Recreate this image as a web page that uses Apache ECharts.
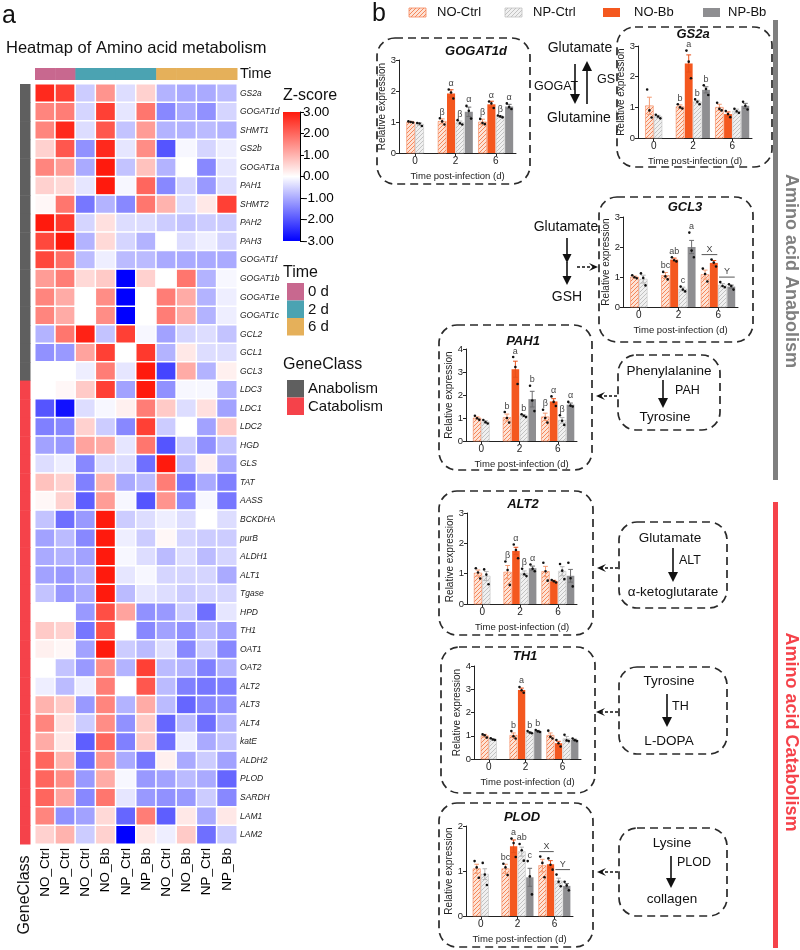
<!DOCTYPE html>
<html>
<head>
<meta charset="utf-8">
<script src="https://cdn.jsdelivr.net/npm/echarts@6/dist/echarts.min.js"></script>
<style>
html,body{margin:0;padding:0;background:#fff}
#main{width:800px;height:950px}
</style>
</head>
<body>
<div id="main"></div>
<script>
var FF = '"Liberation Sans", Arial, sans-serif';

// ---- heatmap data ----
var genes = ['GS2a','GOGAT1d','SHMT1','GS2b','GOGAT1a','PAH1','SHMT2','PAH2','PAH3','GOGAT1f',
  'GOGAT1b','GOGAT1e','GOGAT1c','GCL2','GCL1','GCL3','LDC3','LDC1','LDC2','HGD',
  'GLS','TAT','AASS','BCKDHA','purB','ALDH1','ALT1','Tgase','HPD','TH1',
  'OAT1','OAT2','ALT2','ALT3','ALT4','katE','ALDH2','PLOD','SARDH','LAM1','LAM2'];
var geneClass = ['Anabolism','Anabolism','Anabolism','Anabolism','Anabolism','Anabolism','Anabolism','Anabolism',
  'Anabolism','Anabolism','Anabolism','Anabolism','Anabolism','Anabolism','Anabolism','Anabolism',
  'Catabolism','Catabolism','Catabolism','Catabolism','Catabolism','Catabolism','Catabolism','Catabolism',
  'Catabolism','Catabolism','Catabolism','Catabolism','Catabolism','Catabolism','Catabolism','Catabolism',
  'Catabolism','Catabolism','Catabolism','Catabolism','Catabolism','Catabolism','Catabolism','Catabolism','Catabolism'];
var colLabels = ['NO_Ctrl','NP_Ctrl','NO_Ctrl','NO_Bb','NP_Ctrl','NP_Bb','NO_Ctrl','NO_Bb','NP_Ctrl','NP_Bb'];
var colTime = ['0 d','0 d','2 d','2 d','2 d','2 d','6 d','6 d','6 d','6 d'];
var timeLevels = ['0 d','2 d','6 d'];
var classLevels = ['Anabolism','Catabolism'];
var zTicks = [-3, 3];
var zscore = [
  [2.8, 2.5, -0.6, 1.4, -0.4, 0.6, -0.9, -1.0, -1.0, -0.8],
  [1.6, 1.7, -0.5, 2.5, -0.3, 1.8, -1.4, -1.0, -1.3, -0.5],
  [1.6, 2.8, -0.4, 2.2, -0.7, 1.3, -0.9, -0.9, -0.8, -0.9],
  [0.6, 2.2, -1.3, 2.8, -0.3, 1.5, -2.0, -0.1, -0.5, -0.2],
  [1.6, 1.3, -1.0, 3.0, -0.7, 0.8, -0.9, 0.0, -1.4, -0.3],
  [0.6, 0.5, -0.3, 3.0, -0.1, 2.0, -1.4, -0.5, -1.2, -0.4],
  [0.1, 1.8, -1.6, -0.9, -1.4, 1.8, 1.0, -0.4, 0.3, 2.5],
  [3.0, 2.6, -0.5, 0.4, -0.4, -0.4, -0.6, -0.7, -0.6, -0.6],
  [2.4, 3.0, -0.9, 0.5, -0.5, -0.9, 0.0, -0.4, -0.2, -0.5],
  [2.4, 1.9, -0.8, -0.2, -0.8, -0.8, -1.0, -1.0, -1.0, -1.0],
  [1.3, 1.7, 0.5, 0.7, -3.0, 0.6, 0.0, 1.8, -0.9, -0.1],
  [1.6, 1.1, 0.0, 1.5, -3.0, 0.0, 1.7, 1.1, -0.9, -0.2],
  [1.6, 1.1, 0.0, 1.5, -3.0, 0.0, 1.7, 1.1, -0.9, -0.2],
  [-0.9, 1.8, 2.9, -0.7, 2.5, -0.1, -1.1, -0.5, -0.4, -0.7],
  [-1.3, -1.2, 1.2, 2.5, 0.0, 2.6, -0.9, 0.3, -0.4, -0.4],
  [0.0, 0.0, -0.2, 1.7, -0.3, 3.0, -2.2, 1.1, -0.9, 0.2],
  [0.0, 0.1, 0.7, 2.5, -1.1, 3.0, -1.3, -0.1, -0.1, -0.9],
  [-2.0, -2.8, -0.4, -0.1, 0.2, 1.7, 0.7, -0.4, 0.4, -1.1],
  [-1.5, -1.4, 0.6, -0.6, -1.4, 2.5, -0.6, 0.0, -1.1, 0.7],
  [-1.1, -1.2, 1.2, 1.1, -0.3, 1.8, -2.0, -0.6, -1.3, -0.7],
  [-0.4, -0.2, -1.4, -0.4, -0.4, -1.7, 3.0, -0.8, 0.2, -1.0],
  [0.8, 0.6, -1.5, 1.0, -1.0, -0.8, 1.7, -1.6, -1.0, -1.5],
  [0.1, 0.6, -1.9, 1.3, -0.1, -2.0, 1.4, -1.4, -0.1, -1.6],
  [-0.7, -1.7, -1.2, 3.0, -0.6, -0.4, -0.2, -0.4, 0.0, -0.4],
  [-1.1, -0.8, -1.4, 3.0, -0.2, -0.6, 0.1, -0.5, -0.6, -0.6],
  [-1.0, -0.9, -1.1, 3.0, -0.1, -0.4, -0.8, -0.4, -0.8, -0.5],
  [-1.1, -1.2, -0.9, 3.0, -0.3, -0.1, -0.5, -0.5, -0.5, -1.0],
  [-0.7, -1.2, -1.0, 3.0, -0.8, -0.3, -0.4, -0.6, -0.5, -0.5],
  [0.0, 0.0, -1.2, 2.3, 1.2, -1.3, -1.2, -0.6, -1.7, -0.3],
  [0.7, 0.6, -1.6, 2.3, 0.0, -1.4, -1.1, -1.3, -0.8, -1.1],
  [0.2, 0.1, -1.1, 3.0, -0.6, -0.8, -0.4, -1.4, -0.6, -1.4],
  [0.0, -0.7, -1.2, 1.5, -0.9, 2.5, -0.8, -0.9, -1.5, -0.9],
  [-0.2, -0.8, -0.2, 1.7, 0.0, 2.2, -0.8, -1.5, -1.6, -1.5],
  [1.0, 0.7, -1.2, 1.6, -0.9, 1.1, -0.8, -1.8, -1.4, -1.3],
  [1.6, 0.4, -0.6, 1.5, -1.3, 0.7, -1.8, -0.8, -1.7, -0.9],
  [1.1, 0.3, -1.9, 2.0, -1.5, 0.7, -1.7, -0.2, -1.0, -0.7],
  [2.0, 1.0, -1.7, 1.4, -1.0, -1.6, 0.2, -1.0, -0.6, -1.1],
  [2.0, 1.5, -1.2, 1.1, -0.1, -1.2, -1.1, -0.8, -1.0, -1.8],
  [2.0, 1.2, -1.4, 1.8, -0.3, -1.2, -1.3, -1.2, -0.6, -1.4],
  [1.6, -1.3, -1.1, 0.5, -1.8, 1.7, -1.9, 0.3, -1.0, 0.3],
  [0.6, 1.0, -0.6, 0.6, -3.0, 0.3, -0.2, 0.7, -1.7, -0.6]
];

// ---- qPCR bar data: rows = NO-Ctrl, NO-Bb, NP-Ctrl, NP-Bb ; cols = day 0, 2, 6 ----
var groupNames = ['NO-Ctrl','NO-Bb','NP-Ctrl','NP-Bb'];
var dayLabels = ['0','2','6'];

var gogat1dMean = [[1.00,1.02,1.00],[null,1.92,1.57],[0.93,0.98,1.18],[null,1.33,1.50]];
var gogat1dSem  = [[0.02,0.08,0.09],[null,0.12,0.10],[0.04,0.05,0.02],[null,0.15,0.07]];
var gogat1dPts  = [[[1.02,1.00,0.98],[1.12,1.02,0.92],[1.10,0.97,0.93]],[null,[2.05,1.95,1.76],[1.66,1.60,1.45]],
                   [[0.97,0.95,0.87],[1.06,0.96,0.92],[1.21,1.18,1.15]],[null,[1.52,1.36,1.11],[1.60,1.48,1.42]]];
var gogat1dSig  = [['','β','β'],['','α','α'],['','β','β'],['','α','α']];

var gs2aMean = [[1.05,1.02,1.00],[null,2.43,0.78],[0.70,1.18,0.88],[null,1.57,1.05]];
var gs2aSem  = [[0.28,0.06,0.10],[null,0.28,0.07],[0.04,0.05,0.06],[null,0.10,0.08]];
var gs2aPts  = [[[1.58,0.90,0.67],[1.10,1.00,0.96],[1.15,0.95,0.90]],[null,[2.85,2.49,1.95],[0.88,0.78,0.68]],
                [[0.76,0.70,0.64],[1.26,1.18,1.10],[0.95,0.87,0.82]],[null,[1.72,1.60,1.40],[1.18,1.05,0.93]]];
var gs2aSig  = [['','b',''],['','a',''],['','b',''],['','b','']];

var gcl3Mean = [[1.00,1.05,1.08],[null,1.58,1.47],[0.93,0.60,0.73],[null,2.00,0.68]];
var gcl3Sem  = [[0.03,0.10,0.15],[null,0.05,0.08],[0.13,0.06,0.05],[null,0.22,0.05]];
var gcl3Pts  = [[[1.06,0.99,0.96],[1.17,1.02,0.92],[1.28,1.10,0.85]],[null,[1.66,1.56,1.52],[1.58,1.48,1.35]],
                [[1.12,0.97,0.72],[0.68,0.58,0.52],[0.83,0.70,0.66]],[null,[2.48,1.88,1.66],[0.76,0.70,0.58]]];
var gcl3Sig  = [['','bc',''],['','ab',''],['','c',''],['','a','']];
var gcl3Pairs = [['','','X'],['','','Y']];

var pah1Mean = [[1.00,1.02,1.05],[null,3.12,1.72],[0.83,1.10,0.90],[null,1.82,1.58]];
var pah1Sem  = [[0.05,0.15,0.16],[null,0.35,0.12],[0.05,0.04,0.12],[null,0.34,0.07]];
var pah1Pts  = [[[1.10,0.99,0.92],[1.26,1.00,0.80],[1.36,1.00,0.80]],[null,[3.65,3.22,2.48],[1.94,1.70,1.52]],
                [[0.91,0.82,0.76],[1.16,1.10,1.04],[1.12,0.88,0.70]],[null,[2.40,1.76,1.30],[1.70,1.54,1.50]]];
var pah1Sig  = [['','b','β'],['','a','α'],['','b','β'],['','b','α']];

var alt2Mean = [[1.02,1.05,1.07],[null,1.75,0.75],[0.92,1.02,1.08],[null,1.18,0.93]];
var alt2Sem  = [[0.10,0.22,0.17],[null,0.12,0.03],[0.15,0.07,0.15],[null,0.07,0.21]];
var alt2Pts  = [[[1.18,1.04,0.84],[1.40,1.12,0.63],[1.36,1.08,0.77]],[null,[1.96,1.78,1.51],[0.79,0.75,0.71]],
                [[1.14,0.97,0.65],[1.16,0.98,0.92],[1.32,1.10,0.82]],[null,[1.30,1.16,1.08],[1.36,0.85,0.58]]];
var alt2Sig  = [['','β',''],['','α',''],['','β',''],['','α','']];

var th1Mean = [[1.00,1.02,1.02],[null,2.97,0.68],[0.85,1.15,0.87],[null,1.20,0.82]];
var th1Sem  = [[0.06,0.10,0.10],[null,0.08,0.08],[0.03,0.03,0.10],[null,0.03,0.03]];
var th1Pts  = [[[1.06,1.02,0.92],[1.20,0.98,0.88],[1.22,0.96,0.88]],[null,[3.10,2.96,2.85],[0.82,0.68,0.54]],
               [[0.89,0.84,0.82],[1.20,1.14,1.11],[1.04,0.80,0.77]],[null,[1.25,1.19,1.16],[0.88,0.81,0.77]]];
var th1Sig  = [['','b',''],['','a',''],['','b',''],['','b','']];

var plodMean = [[1.05,1.05,1.12],[null,1.55,1.15],[0.93,1.43,0.78],[null,0.86,0.67]];
var plodSem  = [[0.10,0.10,0.14],[null,0.14,0.08],[0.12,0.10,0.06],[null,0.20,0.05]];
var plodPts  = [[[1.22,1.08,0.85],[1.16,1.08,0.91],[1.32,1.18,0.86]],[null,[1.72,1.62,1.31],[1.28,1.14,1.03]],
                [[1.18,0.92,0.69],[1.60,1.46,1.23],[0.92,0.76,0.66]],[null,[1.22,0.88,0.48],[0.76,0.68,0.57]]];
var plodSig  = [['','bc',''],['','a',''],['','ab',''],['','c','']];
var plodPairs = [['','','X'],['','','Y']];

var panels = [
  {name:'GOGAT1d', mean:gogat1dMean, sem:gogat1dSem, pts:gogat1dPts, sig:gogat1dSig, pairs:null, ymax:3},
  {name:'GS2a', mean:gs2aMean, sem:gs2aSem, pts:gs2aPts, sig:gs2aSig, pairs:null, ymax:3},
  {name:'GCL3', mean:gcl3Mean, sem:gcl3Sem, pts:gcl3Pts, sig:gcl3Sig, pairs:gcl3Pairs, ymax:3},
  {name:'PAH1', mean:pah1Mean, sem:pah1Sem, pts:pah1Pts, sig:pah1Sig, pairs:null, ymax:4},
  {name:'ALT2', mean:alt2Mean, sem:alt2Sem, pts:alt2Pts, sig:alt2Sig, pairs:null, ymax:3},
  {name:'TH1', mean:th1Mean, sem:th1Sem, pts:th1Pts, sig:th1Sig, pairs:null, ymax:4},
  {name:'PLOD', mean:plodMean, sem:plodSem, pts:plodPts, sig:plodSig, pairs:plodPairs, ymax:2}
];

// ---- layout (pixels) ----
var panelGrid = [[399,60,117,93],[638,46,114,92],[623,217,115,90],[466,349,111,92],[467,513,110,91],[474,666,107,93],[466,826,107,90]];
var panelBox  = [[377,38,153,146],[617,27,155,140],[599,197,154,145],[439,325,153,145],[439,491,154,144],[441,647,154,146],[439,803,154,144]];
var panelTitle = [[476,51],[693,34],[685,207],[523,341],[523,504],[525,656],[522,817]];

// ---- colours ----
var heatColors = ['#0000FF','#FFFFFF','#FF1A0D'];
var timeColors = ['#C8688F','#4BA3B2','#E5B05A'];
var classColors = ['#5F5F5F','#F5424A'];

function hatch(bg, fg) {
  var c = document.createElement('canvas');
  c.width = 4; c.height = 4;
  var x = c.getContext('2d');
  x.fillStyle = bg; x.fillRect(0, 0, 4, 4);
  x.strokeStyle = fg; x.lineWidth = 1;
  x.beginPath();
  x.moveTo(0, 4); x.lineTo(4, 0);
  x.moveTo(-1, 1); x.lineTo(1, -1);
  x.moveTo(3, 5); x.lineTo(5, 3);
  x.stroke();
  return {image: c, repeat: 'repeat'};
}
var barFill = [hatch('#FDE3D6', '#F5875A'), '#F4581F', hatch('#F0F0F0', '#C2C2C2'), '#8E8E91'];
var barEdge = ['#F5875A', null, '#C2C2C2', null];
var errColor = ['#F39A72', '#E8501A', '#B5B5B5', '#6E6E70'];

var dom = document.getElementById('main');
var myChart = echarts.init(dom);

// graphic helpers
var G = [];
function txt(x, y, s, o) {
  var st = {text: s, fill: '#111', fontSize: 13, fontFamily: FF, align: 'left', verticalAlign: 'middle'};
  o = o || {};
  for (var k in o) if (k !== 'rotation') st[k] = o[k];
  G.push({type: 'text', x: x, y: y, rotation: o.rotation || 0, style: st, z: 10});
}
function box(b) {
  G.push({type: 'rect', shape: {x: b[0], y: b[1], width: b[2], height: b[3], r: 18},
    style: {fill: 'none', stroke: '#2a2a2a', lineWidth: 1.7, lineDash: [8, 5]}, z: 1});
}
function arrow(x1, y1, x2, y2, o) {
  o = o || {};
  var ang = Math.atan2(y2 - y1, x2 - x1), L = o.L || 9, W = o.W || 4.5;
  var c = Math.cos(ang), s = Math.sin(ang);
  var bx = x2 - L * c, by = y2 - L * s;
  var notch = o.stealth ? 0.4 * L : 0;
  G.push({type: 'line', shape: {x1: x1, y1: y1, x2: x2 - (L - notch) * c, y2: y2 - (L - notch) * s},
    style: {stroke: '#111', lineWidth: o.lw || 1.6, lineDash: o.dash || null}, z: 5});
  G.push({type: 'polygon', shape: {points: [[x2, y2], [bx - s * W, by + c * W], [x2 - (L - notch) * c, y2 - (L - notch) * s], [bx + s * W, by - c * W]]},
    style: {fill: '#111'}, z: 5});
}

// ---- panel labels / heatmap titles ----
txt(2, 16, 'a', {fontSize: 25});
txt(372, 14, 'b', {fontSize: 25});
txt(6, 48, 'Heatmap of Amino acid metabolism', {fontSize: 16.5});
txt(240, 74, 'Time', {fontSize: 14.5});
txt(25, 895, 'GeneClass', {fontSize: 16, align: 'center', rotation: Math.PI / 2});

// Z-score legend
txt(283, 96, 'Z-score', {fontSize: 16});
G.push({type: 'rect', shape: {x: 283, y: 112, width: 17, height: 129},
  style: {fill: {type: 'linear', x: 0, y: 0, x2: 0, y2: 1, colorStops: [
    {offset: 0, color: heatColors[2]}, {offset: 0.5, color: heatColors[1]}, {offset: 1, color: heatColors[0]}]}}});
// Time legend
txt(283, 273, 'Time', {fontSize: 16});
timeLevels.forEach(function (t, i) {
  G.push({type: 'rect', shape: {x: 287, y: 283 + i * 17.5, width: 17, height: 17.5}, style: {fill: timeColors[i]}});
  txt(308, 292 + i * 17.5, t, {fontSize: 15});
});
// GeneClass legend
txt(283, 365, 'GeneClass', {fontSize: 16});
classLevels.forEach(function (t, i) {
  G.push({type: 'rect', shape: {x: 287, y: 380 + i * 17.5, width: 17, height: 17.5}, style: {fill: classColors[i]}});
  txt(308, 389 + i * 17.5, t, {fontSize: 15});
});

// bar legend at top
var legX = [[409, 437], [505, 533], [603, 634], [703, 728]];
[0, 2, 1, 3].forEach(function (s, i) {
  G.push({type: 'rect', shape: {x: legX[i][0], y: 8, width: 17, height: 9},
    style: {fill: barFill[s], stroke: barEdge[s], lineWidth: 0.8}});
  txt(legX[i][1], 12.5, groupNames[s], {fontSize: 13});
});

// panel boxes and titles
panels.forEach(function (p, i) {
  box(panelBox[i]);
  txt(panelTitle[i][0], panelTitle[i][1], p.name, {fontSize: 13, fontWeight: 'bold', fontStyle: 'italic', align: 'center'});
});

// pathway: glutamate <-> glutamine
txt(580, 48, 'Glutamate', {fontSize: 14, align: 'center'});
txt(579, 118, 'Glutamine', {fontSize: 14, align: 'center'});
arrow(575, 64, 575, 104, {L: 10, W: 5});
arrow(587, 104, 587, 61, {L: 10, W: 5});
txt(534, 87, 'GOGAT', {fontSize: 12.5});
txt(597, 80, 'GS', {fontSize: 12.5});
// glutamate -> GSH
txt(566, 227, 'Glutamate', {fontSize: 14, align: 'center'});
arrow(567, 238, 567, 263, {L: 9, W: 4.5});
arrow(567, 262, 567, 285, {L: 9, W: 4.5});
txt(567, 297, 'GSH', {fontSize: 14, align: 'center'});
arrow(577, 267, 598, 267, {dash: [3, 2], lw: 1.4, stealth: true, L: 9, W: 4});
// PAH
box([618, 355, 102, 75]);
txt(669, 371, 'Phenylalanine', {fontSize: 13.5, align: 'center'});
arrow(663, 380, 663, 408, {L: 10, W: 5});
txt(675, 391, 'PAH', {fontSize: 12.5});
txt(665, 417, 'Tyrosine', {fontSize: 13.5, align: 'center'});
arrow(617, 396, 596, 396, {dash: [3, 2], lw: 1.4, stealth: true, L: 9, W: 4});
// ALT
box([619, 522, 108, 86]);
txt(670, 538, 'Glutamate', {fontSize: 13.5, align: 'center'});
arrow(673, 548, 673, 582, {L: 10, W: 5});
txt(679, 561, 'ALT', {fontSize: 12.5});
txt(673, 592, 'α-ketoglutarate', {fontSize: 13.5, align: 'center'});
arrow(618, 568, 597, 568, {dash: [3, 2], lw: 1.4, stealth: true, L: 9, W: 4});
// TH
box([619, 667, 108, 87]);
txt(669, 681, 'Tyrosine', {fontSize: 13.5, align: 'center'});
arrow(667, 694, 667, 727, {L: 10, W: 5});
txt(672, 707, 'TH', {fontSize: 12.5});
txt(669, 741, 'L-DOPA', {fontSize: 13.5, align: 'center'});
arrow(618, 712, 596, 712, {dash: [3, 2], lw: 1.4, stealth: true, L: 9, W: 4});
// PLOD
box([619, 828, 108, 88]);
txt(672, 843, 'Lysine', {fontSize: 13.5, align: 'center'});
arrow(671, 856, 671, 888, {L: 10, W: 5});
txt(677, 863, 'PLOD', {fontSize: 12.5});
txt(672, 899, 'collagen', {fontSize: 13.5, align: 'center'});
arrow(618, 872, 597, 872, {dash: [3, 2], lw: 1.4, stealth: true, L: 9, W: 4});

// side bars
G.push({type: 'rect', shape: {x: 773, y: 20, width: 5, height: 460}, style: {fill: '#7F7F7F'}});
G.push({type: 'rect', shape: {x: 773, y: 502, width: 5, height: 446}, style: {fill: '#F5424A'}});
txt(791, 271, 'Amino acid Anabolism', {fontSize: 18, fontWeight: 'bold', fill: '#7F7F7F', align: 'center', rotation: -Math.PI / 2});
txt(791, 732, 'Amino acid Catabolism', {fontSize: 18, fontWeight: 'bold', fill: '#F5424A', align: 'center', rotation: -Math.PI / 2});

// ---- heatmap ----
var heatData = [];
zscore.forEach(function (row, r) {
  row.forEach(function (v, c) { heatData.push([c, r, v]); });
});

var grids = [
  {left: 35, top: 84, width: 202, height: 760},
  {left: 283, top: 112, width: 17, height: 129}
];
var xAxes = [
  {gridIndex: 0, type: 'category', data: colLabels, position: 'bottom',
    axisLine: {show: false}, axisTick: {show: false},
    axisLabel: {rotate: 90, fontSize: 13.5, color: '#000', margin: 4, fontFamily: FF}},
  {gridIndex: 1, type: 'value', show: false}
];
var yAxes = [
  {gridIndex: 0, type: 'category', data: genes, inverse: true, position: 'right',
    axisLine: {show: false}, axisTick: {show: false},
    axisLabel: {fontSize: 8.5, fontStyle: 'italic', color: '#222', margin: 3, fontFamily: FF}},
  {gridIndex: 1, type: 'value', min: zTicks[0], max: zTicks[1], interval: 1, position: 'right',
    axisLine: {show: true, onZero: false, lineStyle: {color: '#000', width: 1}},
    axisTick: {show: true, length: 4, lineStyle: {color: '#000'}},
    splitLine: {show: false},
    axisLabel: {formatter: function (v) { return v.toFixed(2); }, fontSize: 13.5, color: '#000', margin: 3, fontFamily: FF}}
];

var series = [
  {type: 'heatmap', xAxisIndex: 0, yAxisIndex: 0, data: heatData,
    itemStyle: {borderColor: '#fff', borderWidth: 1.5}, emphasis: {disabled: true}},
  {type: 'custom', xAxisIndex: 0, yAxisIndex: 0, clip: false,
    data: colTime.map(function (t, i) { return [i, 0, timeLevels.indexOf(t)]; }),
    encode: {x: 0, y: 1},
    renderItem: function (params, api) {
      var c = api.coord([api.value(0), 0]);
      var w = api.size([1, 1])[0];
      return {type: 'rect', shape: {x: c[0] - w / 2, y: params.coordSys.y - 16, width: w + 0.5, height: 12},
        style: {fill: timeColors[api.value(2)]}};
    }},
  {type: 'custom', xAxisIndex: 0, yAxisIndex: 0, clip: false,
    data: geneClass.map(function (t, i) { return [0, i, classLevels.indexOf(t)]; }),
    encode: {x: 0, y: 1},
    renderItem: function (params, api) {
      var c = api.coord([0, api.value(1)]);
      var h = api.size([1, 1])[1];
      return {type: 'rect', shape: {x: params.coordSys.x - 15, y: c[1] - h / 2, width: 10.5, height: h + 0.5},
        style: {fill: classColors[api.value(2)]}};
    }}
];

// ---- bar panels ----
function makeRender(p) {
  return function (params, api) {
    var g = api.value(0), s = api.value(1);
    var unit = api.size([1, 0])[0];
    var bw = unit * 0.22;
    function cxOf(ss) {
      var slot = g === 0 ? (ss === 0 ? -0.5 : 0.5) : ss - 1.5;
      return api.coord([g, 0])[0] + slot * bw;
    }
    function topOf(ss) {
      var m = p.mean[ss][g], e = p.sem[ss][g];
      var ys = p.pts[ss][g].map(function (v) { return api.coord([g, v])[1]; });
      ys.push(api.coord([g, m + e])[1]);
      return Math.min.apply(null, ys);
    }
    var m = p.mean[s][g], e = p.sem[s][g];
    var base = api.coord([g, 0]);
    var cx = cxOf(s);
    var yTop = api.coord([g, m])[1];
    var yHi = api.coord([g, m + e])[1], yLo = api.coord([g, m - e])[1];
    var cap = bw * 0.28;
    var ch = [];
    ch.push({type: 'rect', shape: {x: cx - bw / 2 + 0.4, y: yTop, width: bw - 0.8, height: base[1] - yTop},
      style: {fill: barFill[s], stroke: barEdge[s], lineWidth: 0.6}});
    var ec = errColor[s];
    ch.push({type: 'line', shape: {x1: cx, y1: yLo, x2: cx, y2: yHi}, style: {stroke: ec, lineWidth: 1}});
    ch.push({type: 'line', shape: {x1: cx - cap, y1: yHi, x2: cx + cap, y2: yHi}, style: {stroke: ec, lineWidth: 1}});
    ch.push({type: 'line', shape: {x1: cx - cap, y1: yLo, x2: cx + cap, y2: yLo}, style: {stroke: ec, lineWidth: 1}});
    p.pts[s][g].forEach(function (v, k) {
      ch.push({type: 'circle', shape: {cx: cx + (k - 1) * bw * 0.26, cy: api.coord([g, v])[1], r: 1.3}, style: {fill: '#111'}});
    });
    var lab = p.sig[s][g];
    if (lab) {
      ch.push({type: 'text', x: cx, y: topOf(s) - 1.5,
        style: {text: lab, align: 'center', verticalAlign: 'bottom', fontSize: 9, fill: '#444', fontFamily: FF}});
    }
    if (p.pairs && (s === 1 || s === 3)) {
      var pl = p.pairs[(s - 1) / 2][g];
      if (pl) {
        var yl = Math.min(topOf(s), topOf(s - 1)) - 5;
        var xa = cxOf(s - 1) - bw * 0.4, xb = cx + bw * 0.4;
        ch.push({type: 'line', shape: {x1: xa, y1: yl, x2: xb, y2: yl}, style: {stroke: '#444', lineWidth: 0.9}});
        ch.push({type: 'text', x: (xa + xb) / 2, y: yl - 1,
          style: {text: pl, align: 'center', verticalAlign: 'bottom', fontSize: 9, fill: '#444', fontFamily: FF}});
      }
    }
    return {type: 'group', children: ch};
  };
}

panels.forEach(function (p, i) {
  var gi = i + 2, L = panelGrid[i];
  grids.push({left: L[0], top: L[1], width: L[2], height: L[3]});
  xAxes.push({gridIndex: gi, type: 'value', min: -0.4, max: 2.5,
    axisLine: {show: true, onZero: false, lineStyle: {color: '#222', width: 1}},
    axisTick: {show: true, customValues: [0, 1, 2], length: 3, lineStyle: {color: '#222'}},
    axisLabel: {customValues: [0, 1, 2], formatter: function (v) { return dayLabels[Math.round(v)]; },
      fontSize: 10, color: '#222', margin: 3, fontFamily: FF},
    splitLine: {show: false},
    name: 'Time post-infection (d)', nameLocation: 'middle', nameGap: 18,
    nameTextStyle: {fontSize: 9.5, color: '#222', fontFamily: FF}});
  yAxes.push({gridIndex: gi, type: 'value', min: 0, max: p.ymax, interval: 1,
    axisLine: {show: true, onZero: false, lineStyle: {color: '#222', width: 1}},
    axisTick: {show: true, length: 3, lineStyle: {color: '#222'}},
    axisLabel: {fontSize: 9.5, color: '#222', margin: 3, fontFamily: FF},
    splitLine: {show: false},
    name: 'Relative expression', nameLocation: 'middle', nameGap: 12,
    nameTextStyle: {fontSize: 10, color: '#222', fontFamily: FF}});
  var data = [];
  for (var s = 0; s < 4; s++) {
    for (var g = 0; g < 3; g++) {
      if (p.mean[s][g] != null) data.push([g, s, p.mean[s][g]]);
    }
  }
  series.push({type: 'custom', name: p.name, xAxisIndex: gi, yAxisIndex: gi, clip: false,
    encode: {x: 0, y: 2}, data: data, renderItem: makeRender(p), z: 3});
});

var option = {
  animation: false,
  backgroundColor: '#fff',
  textStyle: {fontFamily: FF},
  grid: grids,
  xAxis: xAxes,
  yAxis: yAxes,
  visualMap: {show: false, type: 'continuous', min: -3, max: 3, seriesIndex: 0, dimension: 2,
    inRange: {color: heatColors}},
  series: series,
  graphic: G
};
myChart.setOption(option, true);
window.onresize = function () { myChart.resize(); };
</script>
</body>
</html>
